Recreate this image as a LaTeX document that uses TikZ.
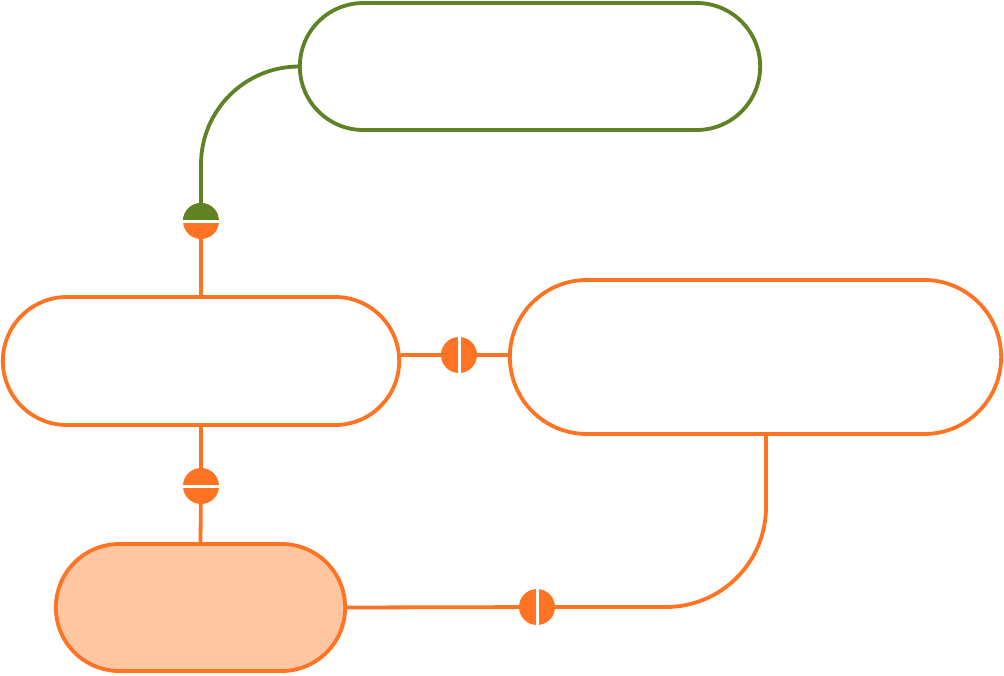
\documentclass[tikz,border=0pt]{standalone}
\usetikzlibrary{shapes.misc,backgrounds}
\definecolor{naranja}{HTML}{FF7322}
\definecolor{oliva}{HTML}{5E8224}
\definecolor{durazno}{HTML}{FFC6A2}
\tikzset{
  caja/.style={rounded rectangle, draw=naranja, line width=3.8pt, fill=white},
  cajaverde/.style={caja, draw=oliva},
  cajallena/.style={caja, fill=durazno},
  enlace/.style={draw=naranja, line width=3.8pt},
  enlaceverde/.style={draw=oliva, line width=3.8pt},
  corteh/.style={circle, fill=naranja, minimum size=36pt, inner sep=0pt,
    path picture={\draw[white, line width=3pt] (path picture bounding box.west) -- (path picture bounding box.east);}},
  cortev/.style={circle, fill=naranja, minimum size=36pt, inner sep=0pt,
    path picture={\draw[white, line width=3pt] (path picture bounding box.north) -- (path picture bounding box.south);}},
  cortemixto/.style={circle, fill=naranja, minimum size=36pt, inner sep=0pt,
    path picture={\fill[oliva] (path picture bounding box.west) rectangle (path picture bounding box.north east);
      \draw[white, line width=3pt] (path picture bounding box.west) -- (path picture bounding box.east);}},
}

\begin{document}
\begin{tikzpicture}[x=1pt, y=-1pt]
  \useasboundingbox (0,0) rectangle (1004,675);
  % cajas
  \node[cajaverde, minimum width=467pt, minimum height=127pt] (arriba) at (530,66.5) {};
  \node[caja, minimum width=403pt, minimum height=128pt] (izq) at (201,361) {};
  \node[caja, minimum width=498pt, minimum height=154pt] (der) at (755.5,357) {};
  \node[cajallena, minimum width=296pt, minimum height=127pt] (abajo) at (200.5,607.5) {};
  % cortes
  \node[cortemixto] (c1) at (201,221) {};
  \node[cortev] (c2) at (459,355) {};
  \node[corteh] (c3) at (201,486) {};
  \node[cortev] (c4) at (537,607) {};
  \coordinate (pie) at (766,434);
  % enlaces
  \begin{scope}[on background layer]
    \draw[enlaceverde, rounded corners=98pt] (arriba.west) -| (c1.center);
    \draw[enlace] (c1.center) -- (izq.north);
    \draw[enlace] (izq.east |- c2) -- (c2) -- (der.west |- c2);
    \draw[enlace] (izq.south) -- (c3) -- (abajo.north);
    \draw[enlace, rounded corners=100pt] (abajo.east) -- (c4.center) -| (pie);
  \end{scope}
\end{tikzpicture}
\end{document}
